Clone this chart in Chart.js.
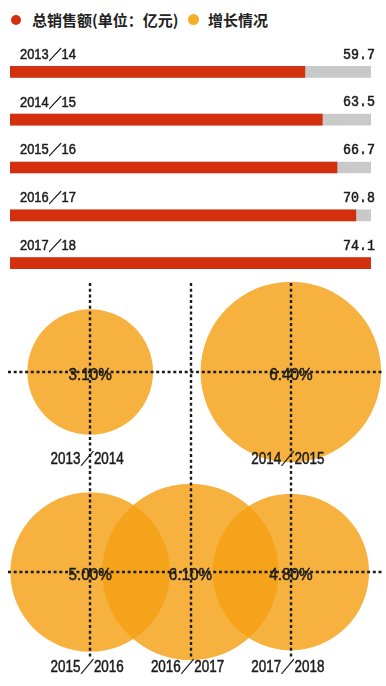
<!DOCTYPE html>
<html>
<head>
<meta charset="utf-8">
<script src="https://cdn.jsdelivr.net/npm/chart.js"></script>
<style>
body{margin:0;background:#fff;width:386px;height:686px;position:relative;overflow:hidden;font-family:"Noto Sans CJK SC","Liberation Sans",sans-serif;}
.dot{position:absolute;border-radius:50%;}
.lg{position:absolute;top:8px;font-size:15px;font-weight:bold;color:#222;line-height:24px;white-space:nowrap;}
#barChart{position:absolute;left:0;top:34px;}
#bubbleChart{position:absolute;left:0;top:270px;}
</style>
</head>
<body>
<div class="dot" style="left:11px;top:15px;width:10px;height:10px;background:#d3300f;"></div>
<div class="lg" style="left:32px;">总销售额(单位：亿元)</div>
<div class="dot" style="left:188px;top:14px;width:11px;height:11px;background:#f5ad2a;"></div>
<div class="lg" style="left:208px;">增长情况</div>
<canvas id="barChart" width="386" height="256"></canvas>
<canvas id="bubbleChart" width="386" height="416"></canvas>
<script>
// total sales, 亿元
const seasons = ["2013／14", "2014／15", "2015／16", "2016／17", "2017／18"];
const sales = [59.7, 63.5, 66.7, 70.8, 74.1];
const axisStart = -4.5;

// growth
const growthYears = ["2013／2014", "2014／2015", "2015／2016", "2016／2017", "2017／2018"];
const growthRates = [3.1, 6.4, 5.0, 6.1, 4.8];
const growthCol = [1, 3, 1, 2, 3];
const growthRow = [1, 1, 2, 2, 2];

const redColor = "#d3300f";
const trackColor = "#c9c9c9";
const bubbleColor = "rgba(244,160,20,0.82)";
const textColor = "#1c1c1c";

var trackMax = Math.max(...sales);

// draws narrow text like the print, a bit heavier
function narrowText(ctx, text, x, y, sx) {
  ctx.save();
  ctx.translate(x, y);
  ctx.scale(sx, 1);
  ctx.lineWidth = 0.5;
  ctx.strokeStyle = textColor;
  ctx.fillText(text, 0, 0);
  ctx.strokeText(text, 0, 0);
  ctx.restore();
}

const barLabels = {
  id: "barLabels",
  afterDatasetsDraw(chart) {
    var ctx = chart.ctx;
    var meta = chart.getDatasetMeta(0);
    ctx.save();
    ctx.fillStyle = textColor;
    ctx.textBaseline = "middle";
    meta.data.forEach(function(bar, i) {
      ctx.font = '14px "Liberation Sans", "Noto Sans CJK SC", sans-serif';
      ctx.textAlign = "left";
      narrowText(ctx, seasons[i], 20, bar.y - 17, 0.92);
      ctx.font = '14px "Liberation Mono", "DejaVu Sans Mono", monospace';
      ctx.textAlign = "right";
      narrowText(ctx, sales[i].toFixed(1), 375, bar.y - 17, 0.95);
    });
    ctx.restore();
  }
};

new Chart("barChart", {
  type: "bar",
  data: {
    labels: seasons,
    datasets: [{
      data: sales,
      backgroundColor: redColor,
      base: axisStart,
      grouped: false,
      barThickness: 11,
      order: 1
    }, {
      data: sales.map(() => trackMax),
      backgroundColor: trackColor,
      base: axisStart,
      grouped: false,
      barThickness: 11,
      order: 2
    }]
  },
  options: {
    indexAxis: "y",
    responsive: false,
    animation: false,
    events: [],
    layout: { padding: { left: 10, right: 15, top: 14, bottom: 3 } },
    plugins: { legend: { display: false }, tooltip: { enabled: false } },
    scales: {
      x: { display: false, min: axisStart, max: trackMax },
      y: { display: false }
    }
  },
  plugins: [barLabels]
});

const crossLines = {
  id: "crossLines",
  afterDatasetsDraw(chart) {
    var ctx = chart.ctx;
    var xs = chart.scales.x, ys = chart.scales.y;
    var cols = [...new Set(growthCol)];
    var rows = [...new Set(growthRow)];
    ctx.save();
    ctx.strokeStyle = textColor;
    ctx.lineWidth = 2.4;
    ctx.setLineDash([3, 2.7]);
    cols.forEach(function(c) {
      var x = Math.round(xs.getPixelForValue(c));
      ctx.beginPath();
      ctx.moveTo(x, 13);
      ctx.lineTo(x, 388);
      ctx.stroke();
    });
    rows.forEach(function(r) {
      var y = Math.round(ys.getPixelForValue(r));
      ctx.beginPath();
      ctx.moveTo(8, y);
      ctx.lineTo(382, y);
      ctx.stroke();
    });
    ctx.setLineDash([]);
    ctx.fillStyle = textColor;
    ctx.textAlign = "center";
    ctx.textBaseline = "middle";
    growthRates.forEach(function(v, i) {
      var x = xs.getPixelForValue(growthCol[i]);
      var y = ys.getPixelForValue(growthRow[i]);
      ctx.font = '17px "Liberation Sans", sans-serif';
      narrowText(ctx, v.toFixed(2) + "%", x, y + 3, 0.9);
      ctx.font = '16px "Liberation Sans", "Noto Sans CJK SC", sans-serif';
      narrowText(ctx, growthYears[i], x - 3, y + (growthRow[i] == 1 ? 88 : 96), 0.84);
    });
    ctx.restore();
  }
};

new Chart("bubbleChart", {
  type: "bubble",
  data: {
    datasets: [{
      data: growthRates.map(function(v, i) {
        return { x: growthCol[i], y: growthRow[i], r: 35.7 * Math.sqrt(v) };
      }),
      backgroundColor: bubbleColor,
      borderWidth: 0,
      clip: false
    }]
  },
  options: {
    responsive: false,
    animation: false,
    events: [],
    layout: { autoPadding: false, padding: { left: 40, right: 45, top: 2, bottom: 14 } },
    plugins: { legend: { display: false }, tooltip: { enabled: false } },
    scales: {
      x: { display: false, min: 0.5, max: 3.5 },
      y: { display: false, min: 0.5, max: 2.5, reverse: true }
    }
  },
  plugins: [crossLines]
});
</script>
</body>
</html>
